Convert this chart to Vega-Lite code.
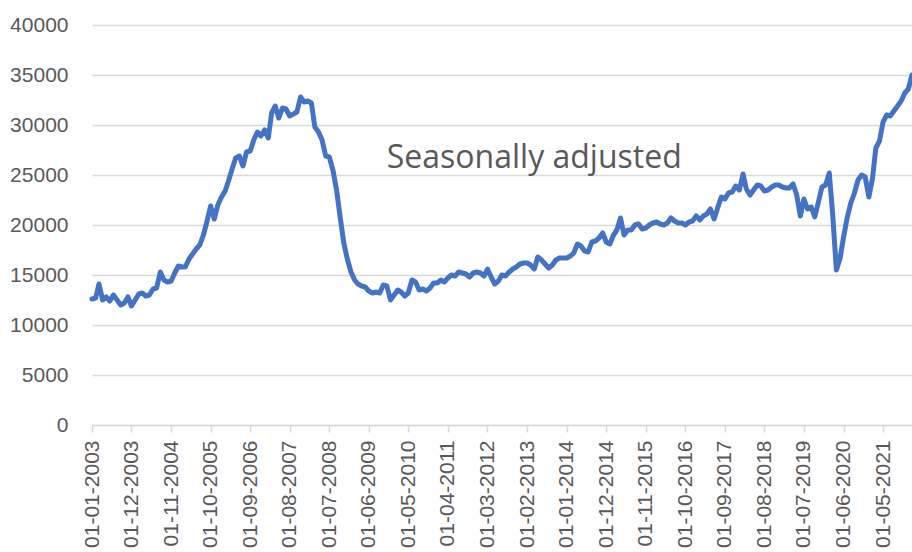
{
  "$schema": "https://vega.github.io/schema/vega-lite/v6.json",
  "width": 820,
  "height": 400,
  "autosize": {"type": "none"},
  "padding": {"left": 92, "top": 25, "right": 0, "bottom": 127},
  "background": "white",
  "config": {"view": {"stroke": null}},
  "layer": [
    {
      "data": {"values": [
        {"date":"2003-01-01","value":12600},{"date":"2003-02-01","value":12700},{"date":"2003-03-01","value":14100},{"date":"2003-04-01","value":12500},{"date":"2003-05-01","value":12800},{"date":"2003-06-01","value":12400},{"date":"2003-07-01","value":13000},{"date":"2003-08-01","value":12500},{"date":"2003-09-01","value":12000},{"date":"2003-10-01","value":12200},{"date":"2003-11-01","value":12800},{"date":"2003-12-01","value":11900},
        {"date":"2004-01-01","value":12500},{"date":"2004-02-01","value":13100},{"date":"2004-03-01","value":13200},{"date":"2004-04-01","value":12900},{"date":"2004-05-01","value":13000},{"date":"2004-06-01","value":13600},{"date":"2004-07-01","value":13700},{"date":"2004-08-01","value":15300},{"date":"2004-09-01","value":14500},{"date":"2004-10-01","value":14300},{"date":"2004-11-01","value":14400},{"date":"2004-12-01","value":15200},
        {"date":"2005-01-01","value":15900},{"date":"2005-02-01","value":15800},{"date":"2005-03-01","value":15800},{"date":"2005-04-01","value":16600},{"date":"2005-05-01","value":17100},{"date":"2005-06-01","value":17600},{"date":"2005-07-01","value":18000},{"date":"2005-08-01","value":19000},{"date":"2005-09-01","value":20400},{"date":"2005-10-01","value":21900},{"date":"2005-11-01","value":20600},{"date":"2005-12-01","value":22000},
        {"date":"2006-01-01","value":22800},{"date":"2006-02-01","value":23400},{"date":"2006-03-01","value":24400},{"date":"2006-04-01","value":25600},{"date":"2006-05-01","value":26700},{"date":"2006-06-01","value":26900},{"date":"2006-07-01","value":25900},{"date":"2006-08-01","value":27300},{"date":"2006-09-01","value":27400},{"date":"2006-10-01","value":28500},{"date":"2006-11-01","value":29300},{"date":"2006-12-01","value":28900},
        {"date":"2007-01-01","value":29500},{"date":"2007-02-01","value":28700},{"date":"2007-03-01","value":31200},{"date":"2007-04-01","value":31900},{"date":"2007-05-01","value":30700},{"date":"2007-06-01","value":31700},{"date":"2007-07-01","value":31600},{"date":"2007-08-01","value":30900},{"date":"2007-09-01","value":31100},{"date":"2007-10-01","value":31300},{"date":"2007-11-01","value":32800},{"date":"2007-12-01","value":32300},
        {"date":"2008-01-01","value":32400},{"date":"2008-02-01","value":32200},{"date":"2008-03-01","value":29800},{"date":"2008-04-01","value":29300},{"date":"2008-05-01","value":28500},{"date":"2008-06-01","value":26900},{"date":"2008-07-01","value":26800},{"date":"2008-08-01","value":25500},{"date":"2008-09-01","value":23500},{"date":"2008-10-01","value":20800},{"date":"2008-11-01","value":18200},{"date":"2008-12-01","value":16600},
        {"date":"2009-01-01","value":15300},{"date":"2009-02-01","value":14500},{"date":"2009-03-01","value":14100},{"date":"2009-04-01","value":13900},{"date":"2009-05-01","value":13800},{"date":"2009-06-01","value":13400},{"date":"2009-07-01","value":13200},{"date":"2009-08-01","value":13300},{"date":"2009-09-01","value":13200},{"date":"2009-10-01","value":14000},{"date":"2009-11-01","value":13900},{"date":"2009-12-01","value":12500},
        {"date":"2010-01-01","value":13000},{"date":"2010-02-01","value":13500},{"date":"2010-03-01","value":13300},{"date":"2010-04-01","value":12900},{"date":"2010-05-01","value":13200},{"date":"2010-06-01","value":14500},{"date":"2010-07-01","value":14300},{"date":"2010-08-01","value":13500},{"date":"2010-09-01","value":13600},{"date":"2010-10-01","value":13400},{"date":"2010-11-01","value":13700},{"date":"2010-12-01","value":14200},
        {"date":"2011-01-01","value":14200},{"date":"2011-02-01","value":14500},{"date":"2011-03-01","value":14300},{"date":"2011-04-01","value":14700},{"date":"2011-05-01","value":15000},{"date":"2011-06-01","value":14900},{"date":"2011-07-01","value":15300},{"date":"2011-08-01","value":15200},{"date":"2011-09-01","value":15100},{"date":"2011-10-01","value":14800},{"date":"2011-11-01","value":15200},{"date":"2011-12-01","value":15300},
        {"date":"2012-01-01","value":15200},{"date":"2012-02-01","value":14900},{"date":"2012-03-01","value":15600},{"date":"2012-04-01","value":14800},{"date":"2012-05-01","value":14100},{"date":"2012-06-01","value":14400},{"date":"2012-07-01","value":15000},{"date":"2012-08-01","value":14900},{"date":"2012-09-01","value":15300},{"date":"2012-10-01","value":15600},{"date":"2012-11-01","value":15800},{"date":"2012-12-01","value":16100},
        {"date":"2013-01-01","value":16200},{"date":"2013-02-01","value":16200},{"date":"2013-03-01","value":16000},{"date":"2013-04-01","value":15600},{"date":"2013-05-01","value":16800},{"date":"2013-06-01","value":16500},{"date":"2013-07-01","value":16100},{"date":"2013-08-01","value":15700},{"date":"2013-09-01","value":16000},{"date":"2013-10-01","value":16500},{"date":"2013-11-01","value":16700},{"date":"2013-12-01","value":16700},
        {"date":"2014-01-01","value":16700},{"date":"2014-02-01","value":16900},{"date":"2014-03-01","value":17200},{"date":"2014-04-01","value":18100},{"date":"2014-05-01","value":17900},{"date":"2014-06-01","value":17400},{"date":"2014-07-01","value":17300},{"date":"2014-08-01","value":18300},{"date":"2014-09-01","value":18400},{"date":"2014-10-01","value":18700},{"date":"2014-11-01","value":19200},{"date":"2014-12-01","value":18300},
        {"date":"2015-01-01","value":18100},{"date":"2015-02-01","value":19000},{"date":"2015-03-01","value":19500},{"date":"2015-04-01","value":20700},{"date":"2015-05-01","value":19000},{"date":"2015-06-01","value":19500},{"date":"2015-07-01","value":19500},{"date":"2015-08-01","value":20000},{"date":"2015-09-01","value":20100},{"date":"2015-10-01","value":19600},{"date":"2015-11-01","value":19700},{"date":"2015-12-01","value":20000},
        {"date":"2016-01-01","value":20200},{"date":"2016-02-01","value":20300},{"date":"2016-03-01","value":20100},{"date":"2016-04-01","value":20000},{"date":"2016-05-01","value":20200},{"date":"2016-06-01","value":20700},{"date":"2016-07-01","value":20400},{"date":"2016-08-01","value":20200},{"date":"2016-09-01","value":20200},{"date":"2016-10-01","value":20000},{"date":"2016-11-01","value":20300},{"date":"2016-12-01","value":20400},
        {"date":"2017-01-01","value":20900},{"date":"2017-02-01","value":20500},{"date":"2017-03-01","value":20900},{"date":"2017-04-01","value":21100},{"date":"2017-05-01","value":21600},{"date":"2017-06-01","value":20600},{"date":"2017-07-01","value":21700},{"date":"2017-08-01","value":22800},{"date":"2017-09-01","value":22600},{"date":"2017-10-01","value":23200},{"date":"2017-11-01","value":23300},{"date":"2017-12-01","value":23900},
        {"date":"2018-01-01","value":23500},{"date":"2018-02-01","value":25100},{"date":"2018-03-01","value":23600},{"date":"2018-04-01","value":23000},{"date":"2018-05-01","value":23500},{"date":"2018-06-01","value":24000},{"date":"2018-07-01","value":23900},{"date":"2018-08-01","value":23400},{"date":"2018-09-01","value":23500},{"date":"2018-10-01","value":23800},{"date":"2018-11-01","value":24000},{"date":"2018-12-01","value":24000},
        {"date":"2019-01-01","value":23800},{"date":"2019-02-01","value":23700},{"date":"2019-03-01","value":23700},{"date":"2019-04-01","value":24100},{"date":"2019-05-01","value":23000},{"date":"2019-06-01","value":20900},{"date":"2019-07-01","value":22600},{"date":"2019-08-01","value":21600},{"date":"2019-09-01","value":21800},{"date":"2019-10-01","value":20800},{"date":"2019-11-01","value":22300},{"date":"2019-12-01","value":23800},
        {"date":"2020-01-01","value":24000},{"date":"2020-02-01","value":25200},{"date":"2020-03-01","value":21000},{"date":"2020-04-01","value":15500},{"date":"2020-05-01","value":16600},{"date":"2020-06-01","value":18800},{"date":"2020-07-01","value":20700},{"date":"2020-08-01","value":22200},{"date":"2020-09-01","value":23200},{"date":"2020-10-01","value":24500},{"date":"2020-11-01","value":25000},{"date":"2020-12-01","value":24800},
        {"date":"2021-01-01","value":22800},{"date":"2021-02-01","value":24700},{"date":"2021-03-01","value":27700},{"date":"2021-04-01","value":28400},{"date":"2021-05-01","value":30300},{"date":"2021-06-01","value":31000},{"date":"2021-07-01","value":30900},{"date":"2021-08-01","value":31400},{"date":"2021-09-01","value":31900},{"date":"2021-10-01","value":32400},{"date":"2021-11-01","value":33200},{"date":"2021-12-01","value":33600},
        {"date":"2022-01-01","value":35000}
      ]},
      "mark": {"type": "line", "color": "#4472C4", "strokeWidth": 5, "strokeJoin": "round", "strokeCap": "round"},
      "encoding": {
        "x": {
          "field": "date", "type": "temporal",
          "scale": {"type": "utc", "domain": [{"year":2003,"month":1,"date":1,"utc":true},{"year":2022,"month":1,"date":1,"utc":true}]},
          "axis": {
            "title": null,
            "labelExpr": "utcFormat(datum.value, '%d-%m-%Y')",
            "values": [
              {"year":2003,"month":1,"date":1,"utc":true},{"year":2003,"month":12,"date":1,"utc":true},{"year":2004,"month":11,"date":1,"utc":true},{"year":2005,"month":10,"date":1,"utc":true},{"year":2006,"month":9,"date":1,"utc":true},{"year":2007,"month":8,"date":1,"utc":true},{"year":2008,"month":7,"date":1,"utc":true},{"year":2009,"month":6,"date":1,"utc":true},{"year":2010,"month":5,"date":1,"utc":true},{"year":2011,"month":4,"date":1,"utc":true},{"year":2012,"month":3,"date":1,"utc":true},{"year":2013,"month":2,"date":1,"utc":true},{"year":2014,"month":1,"date":1,"utc":true},{"year":2014,"month":12,"date":1,"utc":true},{"year":2015,"month":11,"date":1,"utc":true},{"year":2016,"month":10,"date":1,"utc":true},{"year":2017,"month":9,"date":1,"utc":true},{"year":2018,"month":8,"date":1,"utc":true},{"year":2019,"month":7,"date":1,"utc":true},{"year":2020,"month":6,"date":1,"utc":true},{"year":2021,"month":5,"date":1,"utc":true}
            ],
            "grid": false,
            "domainColor": "#d9d9d9", "domainWidth": 1.5,
            "tickColor": "#d9d9d9", "tickSize": 7, "tickWidth": 1.5,
            "labelAngle": 270, "labelAlign": "right", "labelBaseline": "middle",
            "labelPadding": 8, "labelFont": "Liberation Sans", "labelFontSize": 21, "labelColor": "#595959",
            "labelOverlap": false, "labelFlush": false, "labelBound": false
          }
        },
        "y": {
          "field": "value", "type": "quantitative",
          "scale": {"domain": [0, 40000], "nice": false},
          "axis": {
            "title": null,
            "values": [0,5000,10000,15000,20000,25000,30000,35000,40000],
            "format": "d",
            "domain": false, "ticks": false, "tickSize": 0,
            "gridColor": "#d9d9d9", "gridWidth": 1.5,
            "labelPadding": 24, "labelFont": "Liberation Sans", "labelFontSize": 21, "labelColor": "#595959"
          }
        }
      }
    },
    {
      "data": {"values": [{"label": "Seasonally adjusted"}]},
      "mark": {"type": "text", "font": "Open Sans", "fontSize": 32, "color": "#595959", "align": "center", "baseline": "alphabetic"},
      "encoding": {
        "x": {"datum": {"year":2013,"month":4,"date":1,"utc":true}, "type": "temporal"},
        "y": {"datum": 25700, "type": "quantitative"},
        "text": {"field": "label"}
      }
    }
  ]
}
